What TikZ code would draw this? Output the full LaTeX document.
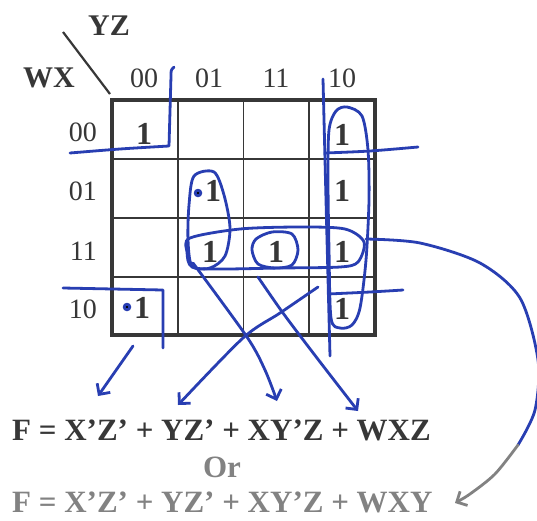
\documentclass[tikz,border=0pt]{standalone}
\usepackage{fontspec}
\setmainfont{Liberation Serif}
\usetikzlibrary{arrows.meta}
\definecolor{pen}{RGB}{40,62,178}
\definecolor{ink}{RGB}{55,55,55}
\definecolor{ghost}{RGB}{130,130,130}
\newcommand\labfont{\fontsize{28}{28}\selectfont}
\newcommand\onefont{\bfseries\fontsize{32}{32}\selectfont}
\newcommand\eqfont{\bfseries\fontsize{31}{31}\selectfont}
\begin{document}
\begin{tikzpicture}[x=1pt,y=-1pt,
  pen/.style={draw=pen, line width=2.8pt, line cap=round, line join=round},
  gpen/.style={draw=ghost, line width=2.8pt, line cap=round, line join=round},
  barb/.style={-{Straight Barb[length=8pt,width=16pt]}},
  grid/.style={draw=ink, line width=1.6pt},
  frame/.style={draw=ink, line width=3.5pt},
  lab/.style={text=ink, font=\labfont, inner sep=0pt},
  head/.style={text=ink, font=\bfseries\fontsize{30}{30}\selectfont, inner sep=0pt},
  one/.style={text=ink, font=\onefont, inner sep=0pt, anchor=base},
  eq/.style={font=\eqfont, inner sep=0pt, anchor=base west}]
\useasboundingbox[fill=white] (0,0) rectangle (537,520);

% grid
\foreach \x in {178,243.5,309}{\draw[grid] (\x,100) -- (\x,335);}
\foreach \y in {159,218,277}{\draw[grid] (112,\y) -- (375,\y);}
\draw[frame] (112,100) rectangle (375,335);

% corner
\coordinate (dA) at (63,32);
\coordinate (dB) at (110,94);
\draw[draw=ink, line width=2.2pt] (dA) -- (dB);
\node[head, anchor=base] (yz) at (109,35) {YZ};
\node[head, anchor=base] (wx) at (49,87) {WX};

% column labels
\node[lab, anchor=base] (c1) at (144,87) {00};
\node[lab, anchor=base] (c2) at (209,87) {01};
\node[lab, anchor=base] (c3) at (276,87) {11};
\node[lab, anchor=base] (c4) at (342,87) {10};
% row labels
\node[lab, anchor=base east] (r1) at (97,141) {00};
\node[lab, anchor=base east] (r2) at (97,200) {01};
\node[lab, anchor=base east] (r3) at (97,260) {11};
\node[lab, anchor=base east] (r4) at (97,318) {10};

% ones
\node[one] (m00) at (144,144) {1};
\node[one] (m03) at (342,145) {1};
\node[one] (m11) at (213,201) {1};
\node[one] (m13) at (342,201) {1};
\node[one] (m21) at (210,262) {1};
\node[one] (m22) at (276,262) {1};
\node[one] (m23) at (342,262) {1};
\node[one] (m30) at (142,318) {1};
\node[one] (m33) at (342,319) {1};

% equations
\node[eq, text=ink] (eq1) at (12,440) {F = X’Z’ + YZ’ + XY’Z + WXZ};
\node[font=\eqfont, text=ghost, inner sep=0pt, anchor=base] (orr) at (222,477) {Or};
\node[eq, text=ghost] (eq2) at (12,512) {F = X’Z’ + YZ’ + XY’Z + WXY};

% pen dots
\fill[pen] (198,193) circle (2.8pt);
\fill[pen] (127,307) circle (2.8pt);

% X'Z' corners
\draw[pen] plot[smooth] coordinates {(70,153) (120,149) (169,146)} -- (171,76) .. controls (171,70) .. (174,67);
\draw[pen] (63,288) -- (163,290) -- (163,348);
\coordinate (t1) at (98,396);
\draw[pen, barb] (133,346) -- (t1);

% YZ' column
\draw[pen] (323,79) -- (326,200) -- (330,356);
\draw[pen] plot[smooth] coordinates {(325,153) (370,151) (418,147)};
\draw[pen] plot[smooth] coordinates {(328,294) (370,292) (403,290)};
\draw[pen] plot[smooth cycle] coordinates {(347,107) (362,116) (368,150) (369,200) (366,260) (360,308) (352,325) (340,328) (331,318) (329,250) (328,180) (329,130) (336,111)};

% vertical oval col 01
\draw[pen] plot[smooth cycle] coordinates {(194,176) (214,172) (224,195) (230,228) (225,256) (210,268) (192,266) (188,240) (189,205)};
% horizontal oval row 11
\draw[pen] plot[smooth cycle] coordinates {(190,238) (240,229) (300,227) (345,229) (364,242) (358,262) (340,267) (280,268) (220,269) (192,267) (187,252)};
% small oval
\draw[pen] plot[smooth cycle] coordinates {(256,239) (272,232) (292,234) (298,250) (292,265) (275,268) (258,264) (252,250)};

% arrows to terms
\coordinate (t2) at (178,405);
\coordinate (t3) at (277,401);
\coordinate (t4) at (358,411);
\coordinate (t5) at (455,503);
\draw[pen, barb] plot[smooth] coordinates {(318,287) (280,313) (243,338) (t2)};
\draw[pen, barb] plot[smooth] coordinates {(193,263) (247,337) (265,370) (t3)};
\draw[pen, barb] plot[smooth] coordinates {(258,277) (283,313) (317,358) (t4)};

% big curve to WXY
\draw[pen] plot[smooth] coordinates {(366,239) (420,243) (480,263) (520,298) (538,360) (535,410) (518,445)};
\draw[gpen, barb] plot[smooth] coordinates {(518,445) (495,474) (470,494) (t5)};
\end{tikzpicture}
\end{document}
